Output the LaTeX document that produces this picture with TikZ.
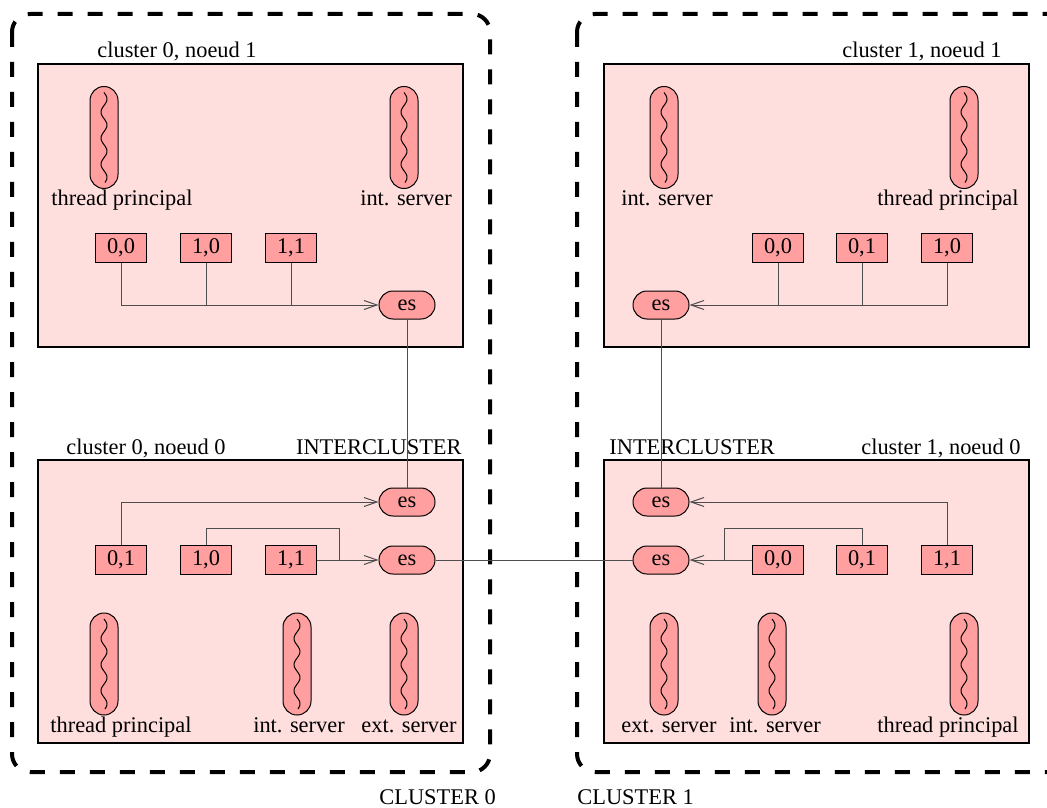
\documentclass[tikz,border=0pt]{standalone}
\usepackage{fontspec}
\setmainfont{Liberation Serif}
\usepackage{tikz}
\usetikzlibrary{arrows.meta}
\definecolor{noeudbg}{HTML}{FFDEDE}
\definecolor{rouge}{HTML}{FF9F9F}
\definecolor{fil}{HTML}{4D4D4D}
\begin{document}
\begin{tikzpicture}[x=0.5pt, y=-0.5pt,
    every node/.style={font=\fontsize{11.2}{13}\selectfont, inner sep=0pt},
    cluster/.style={line width=2pt, dash pattern=on 7.5pt off 7.5pt, rounded corners=9pt},
    noeud/.style={draw, line width=0.75pt, fill=noeudbg},
    vid/.style={draw, line width=0.5pt, fill=rouge, minimum width=25.5pt, minimum height=14.5pt, inner sep=0pt},
    es/.style={draw, line width=0.5pt, fill=rouge, rounded corners=7pt, minimum width=28pt, minimum height=14pt, inner sep=0pt},
    thread/.style={draw, line width=0.5pt, fill=rouge, rounded corners=7pt, minimum width=14pt, minimum height=51pt, inner sep=0pt},
    lien/.style={draw=fil, line width=0.5pt},
    fleche/.style={lien, -{Straight Barb[length=6.5pt, width=4.5pt]}}]
    \clip (0,0) rectangle (1047,807);

    % Clusters
    \draw[cluster] (12,14) rectangle (490,772);
    \draw[cluster] (577,14) rectangle (1130,772);
    \node[anchor=base west] (cl0) at (379,804) {CLUSTER 0};
    \node[anchor=base west] (cl1) at (577,804) {CLUSTER 1};

    % Noeuds
    \draw[noeud] (38,64) rectangle (463,347);
    \draw[noeud] (604,64) rectangle (1029,347);
    \draw[noeud] (38,460) rectangle (463,743);
    \draw[noeud] (604,460) rectangle (1029,743);
    \node[anchor=base west] (n01) at (97,58) {cluster 0, noeud 1};
    \node[anchor=base east] (n11) at (1002,58) {cluster 1, noeud 1};
    \node[anchor=base west] (n00) at (66,454) {cluster 0, noeud 0};
    \node[anchor=base east] (ic0) at (462,454) {INTERCLUSTER};
    \node[anchor=base west] (ic1) at (609,454) {INTERCLUSTER};
    \node[anchor=base east] (n10) at (1021,454) {cluster 1, noeud 0};

    % Threads
    \foreach \n/\x/\y in {ta01/104/137.5, tb01/404/137.5, ta11/664/137.5, tb11/964/137.5,
                          ta00/104/664, tb00/297/664, tc00/404/664,
                          ta10/664/664, tb10/772/664, tc10/964/664} {
        \node[thread] (\n) at (\x,\y) {};
        \draw[line width=0.5pt] plot[variable=\t, domain=0:90, samples=80, smooth]
            ({\x+3*sin(\t*13.8)}, {\y-45+\t});
    }
    \node[anchor=base] (lta01) at (122,206) {thread principal};
    \node[anchor=base] (ltb01) at (406,206) {int. server};
    \node[anchor=base] (lta11) at (667,206) {int. server};
    \node[anchor=base] (ltb11) at (948,206) {thread principal};
    \node[anchor=base] (lta00) at (121,732) {thread principal};
    \node[anchor=base] (ltb00) at (299,732) {int. server};
    \node[anchor=base] (ltc00) at (409,732) {ext. server};
    \node[anchor=base] (lta10) at (669,732) {ext. server};
    \node[anchor=base] (ltb10) at (775,732) {int. server};
    \node[anchor=base] (ltc10) at (948,732) {thread principal};

    % Processus virtuels
    \node[vid] (a00) at (121,248) {0,0};
    \node[vid] (a10) at (206,248) {1,0};
    \node[vid] (a11) at (291,248) {1,1};
    \node[es] (es01) at (407,305) {es};

    \node[vid] (b00) at (778,248) {0,0};
    \node[vid] (b01) at (862,248) {0,1};
    \node[vid] (b10) at (947,248) {1,0};
    \node[es] (es11) at (661,305) {es};

    \node[vid] (c01) at (121,560) {0,1};
    \node[vid] (c10) at (206,560) {1,0};
    \node[vid] (c11) at (291,560) {1,1};
    \node[es] (es00a) at (407,502) {es};
    \node[es] (es00b) at (407,560) {es};

    \node[vid] (d00) at (778,560) {0,0};
    \node[vid] (d01) at (862,560) {0,1};
    \node[vid] (d11) at (947,560) {1,1};
    \node[es] (es10a) at (661,502) {es};
    \node[es] (es10b) at (661,560) {es};

    % Liens
    \draw[fleche] (a00.south) |- (es01.west);
    \draw[lien] (a10.south) -- (a10.south |- es01.west);
    \draw[lien] (a11.south) -- (a11.south |- es01.west);
    \draw[fleche] (b10.south) |- (es11.east);
    \draw[lien] (b00.south) -- (b00.south |- es11.east);
    \draw[lien] (b01.south) -- (b01.south |- es11.east);

    \draw[lien] (es01.south) -- (es00a.north);
    \draw[lien] (es11.south) -- (es10a.north);

    \draw[fleche] (c01.north) |- (es00a.west);
    \draw[fleche] (c11.east) -- (es00b.west);
    \coordinate (j0) at (339,528);
    \draw[lien] (c10.north) |- (j0) -- (j0 |- c11.east);

    \draw[fleche] (d11.north) |- (es10a.east);
    \draw[fleche] (d00.west) -- (es10b.east);
    \coordinate (j1) at (724,528);
    \draw[lien] (d01.north) |- (j1) -- (j1 |- d00.west);

    \draw[lien] (es00b.east) -- (es10b.west);
\end{tikzpicture}
\end{document}
